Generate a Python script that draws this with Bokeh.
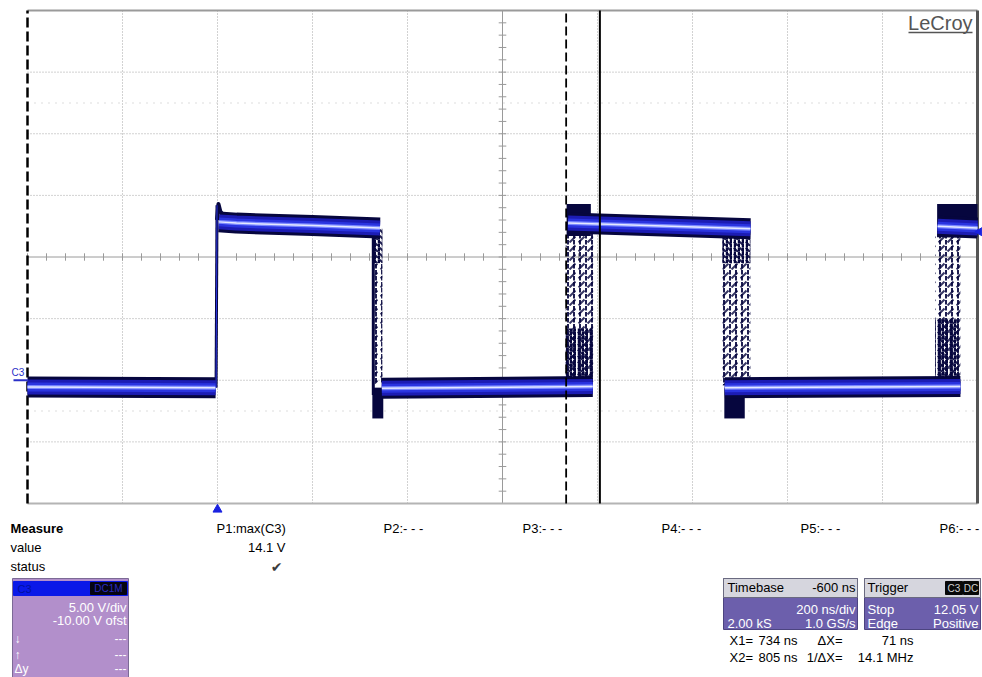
import numpy as np
from bokeh.plotting import figure
from bokeh.models import Range1d
from bokeh.core.properties import value
from bokeh.embed import file_html
from bokeh.resources import INLINE

# ---------------- data ----------------
time_per_div = 200          # ns/div
volt_per_div = 5            # V/div
t_left, t_right = -400, 1600  # ns across 10 divisions
v_bottom, v_top = -10, 30     # V across 8 divisions
v_center = 10
t_center = 600

grid_t = [-200, 0, 200, 400, 800, 1000, 1200, 1400]
grid_v = [-5, 0, 5, 15, 20, 25]
faint_v = [22.5, -2.5]

# trace levels (time ns, volts)
low1_t = [-400, -4];            low1_v = [-0.55, -0.6]
high1_t = [3, 40, 200, 342];    high1_v = [12.85, 12.75, 12.55, 12.35]
low2_t = [346, 790];            low2_v = [-0.65, -0.5]
high2_t = [738, 1122];          high2_v = [12.75, 12.3]
low3_t = [1068, 1564];          low3_v = [-0.6, -0.5]
high3_t = [1516, 1600];         high3_v = [12.5, 12.35]

# overshoot spike after the triggered edge
spike_t = [-1, 2, 6, 14, 30]
spike_v = [13.0, 14.3, 13.7, 13.3, 13.1]

# sharp (triggered) edge and main falling stroke
stroke_t0 = [-3, 328];  stroke_v0 = [-0.6, 12.3]
stroke_t1 = [-1, 328];  stroke_v1 = [14.2, -1.2]

# jitter areas of the edges: sparse and dense scattered samples
jit_l = [331, 733, 1063, 1511]
jit_r = [347, 791, 1122, 1564]
jit_b = [-0.3, -0.2, -0.4, -0.2]
jit_t = [9.5, 12.2, 9.5, 12.2]

dense_l = [328, 733, 1063, 1511]
dense_r = [347, 790, 1122, 1560]
dense_b = [9.5, 0.0, 9.5, 0.0]
dense_t = [12.3, 4.2, 12.4, 5.0]

# solid blobs (undershoot / settling)
blob_l = [326, 1067, 735, 1515]
blob_r = [349, 1110, 786, 1600]
blob_b = [-3.1, -3.1, 11.7, 11.6]
blob_t = [-0.6, -0.6, 14.3, 14.3]

trigger_t = 0
trigger_level = 12.05
cursor_x1 = 734
cursor_x2 = 805

measure_rows = ["Measure", "value", "status"]
param_labels = ["P1:max(C3)", "P2:- - -", "P3:- - -", "P4:- - -", "P5:- - -", "P6:- - -"]
p1_value = "14.1 V"
ch_right = ["5.00 V/div", "-10.00 V ofst", "---", "---", "---"]
ch_left = ["\u2193", "\u2191", "\u0394y"]
tb_header = ("Timebase", "-600 ns")
tb_rows_left = ["", "2.00 kS"]
tb_rows_right = ["200 ns/div", "1.0 GS/s"]
trig_rows_left = ["Stop", "Edge"]
trig_rows_right = ["12.05 V", "Positive"]
cursor_left = ["X1=", "X2="]
cursor_pos = ["734 ns", "805 ns"]
cursor_mid = ["\u0394X=", "1/\u0394X="]
cursor_val = ["71 ns", "14.1 MHz"]

# ---------------- layout ----------------
W, H = 982, 677
GX0, GX1 = 27, 977
GY0, GY1 = 10, 503
px_ns = (GX1 - GX0) / (t_right - t_left)
px_v = (GY1 - GY0) / (v_top - v_bottom)
x_start = t_left - GX0 / px_ns
x_end = t_right + (W - GX1) / px_ns
y_end = v_top + GY0 / px_v
y_start = v_bottom - (H - GY1) / px_v

p = figure(width=W, height=H, x_range=Range1d(x_start, x_end),
           y_range=Range1d(y_start, y_end), min_border=0,
           x_axis_location=None, y_axis_location=None,
           toolbar_location=None, output_backend="svg",
           outline_line_color=None, background_fill_color="white",
           border_fill_color="white")
p.grid.visible = False
p.xgrid.visible = False
p.ygrid.visible = False
p.extra_x_ranges = {"px": Range1d(0, W)}
p.extra_y_ranges = {"px": Range1d(H, 0)}

FONT = value("Liberation Sans")
GRIDC = "#a4a4a4"

# graticule
p.segment(x0=grid_t, y0=v_bottom, x1=grid_t, y1=v_top, line_color=GRIDC,
          line_dash="1 2", line_width=1)
p.segment(x0=t_left, y0=grid_v, x1=t_right, y1=grid_v, line_color=GRIDC,
          line_dash="1 2", line_width=1)
p.segment(x0=t_left, y0=faint_v, x1=t_right, y1=faint_v, line_color="#d2d2d2",
          line_dash="1 6", line_width=1.5)
p.segment(x0=[t_left], y0=[v_center], x1=[t_right], y1=[v_center],
          line_color="#9a9a9a", line_width=1)
p.segment(x0=[t_center], y0=[v_bottom], x1=[t_center], y1=[v_top],
          line_color="#9a9a9a", line_width=1)
tick_t = np.arange(t_left, t_right + 1, time_per_div / 5)
tick_v = np.arange(v_bottom, v_top + 0.01, volt_per_div / 5)
p.segment(x0=tick_t, y0=v_center - 0.3, x1=tick_t, y1=v_center + 0.3,
          line_color="#9a9a9a", line_width=1)
p.segment(x0=t_center - 8, y0=tick_v, x1=t_center + 8, y1=tick_v,
          line_color="#9a9a9a", line_width=1)
# frame
p.segment(x0=[t_left], y0=[v_top], x1=[t_right], y1=[v_top], line_color="#9a9a9a", line_width=2)
p.segment(x0=[t_left], y0=[v_bottom], x1=[t_right], y1=[v_bottom], line_color="#b4b4b4", line_width=2)
p.segment(x0=[t_left], y0=[v_bottom], x1=[t_left], y1=[v_top], line_color="black",
          line_width=2.5, line_dash="10 4")
p.segment(x0=[t_right], y0=[v_bottom], x1=[t_right], y1=[v_top], line_color="#555555", line_width=3)

# trace: jitter, blobs, bands
NAVY = "#06063e"
p.quad(left=jit_l, right=jit_r, bottom=jit_b, top=jit_t, fill_alpha=0, line_alpha=0,
       hatch_pattern=":", hatch_color=NAVY, hatch_scale=6, hatch_weight=2, hatch_alpha=0.9)
p.quad(left=jit_l, right=jit_r, bottom=jit_b, top=jit_t, fill_alpha=0, line_alpha=0,
       hatch_pattern=",", hatch_color=NAVY, hatch_scale=9, hatch_weight=2, hatch_alpha=0.8)
p.quad(left=dense_l, right=dense_r, bottom=dense_b, top=dense_t, fill_alpha=0, line_alpha=0,
       hatch_pattern=":", hatch_color=NAVY, hatch_scale=4, hatch_weight=2.5, hatch_alpha=1)
p.quad(left=dense_l, right=dense_r, bottom=dense_b, top=dense_t, fill_alpha=0, line_alpha=0,
       hatch_pattern="`", hatch_color=NAVY, hatch_scale=6, hatch_weight=2, hatch_alpha=0.9)
p.quad(left=blob_l, right=blob_r, bottom=blob_b, top=blob_t, fill_color=NAVY,
       fill_alpha=1, line_alpha=0)
p.segment(x0=stroke_t0, y0=stroke_v0, x1=stroke_t1, y1=stroke_v1, line_color=NAVY, line_width=3)
p.line(x=spike_t, y=spike_v, line_color=NAVY, line_width=4, line_join="round")

xs = [low1_t, high1_t, low2_t, high2_t, low3_t, high3_t]
ys = [low1_v, high1_v, low2_v, high2_v, low3_v, high3_v]
for col, lw in [(NAVY, 21), ("#1c1cb4", 15), ("#2a34e0", 9), ("#7a88ff", 4), ("#e4e8ff", 1.5)]:
    p.multi_line(xs=xs, ys=ys, line_color=col, line_width=lw, line_cap="butt", line_join="round")
p.segment(x0=stroke_t0[:1], y0=stroke_v0[:1], x1=stroke_t1[:1], y1=stroke_v1[:1],
          line_color="#2a34e0", line_width=1)

# cursors
p.segment(x0=[cursor_x1], y0=[v_bottom], x1=[cursor_x1], y1=[v_top], line_color="black",
          line_width=1.8, line_dash="9 4")
p.segment(x0=[cursor_x2], y0=[v_bottom], x1=[cursor_x2], y1=[v_top], line_color="black",
          line_width=2)

# markers: trigger position, trigger level, channel ground
p.scatter(x=[trigger_t], y=[509], y_range_name="px", marker="triangle", size=9,
          fill_color="#1a22e0", line_color="#1a22e0")
p.scatter(x=[979], y=[trigger_level], x_range_name="px", marker="triangle", angle=np.pi / 2,
          size=8, fill_color="#1a22e0", line_color="#1a22e0")
p.segment(x0=[13], y0=[0], x1=[27], y1=[0], x_range_name="px", line_color="#2a30c8", line_width=2)
p.text(x=[11], y=[372], text=["C3"], x_range_name="px", y_range_name="px", text_font=FONT,
       text_font_size="10px", text_color="#2a30c8", text_baseline="middle")

# LeCroy logo
p.text(x=[972], y=[22], text=["LeCroy"], x_range_name="px", y_range_name="px",
       text_font=FONT, text_font_size="20px", text_color="#555555", text_align="right",
       text_baseline="middle")
p.segment(x0=[908], y0=[32], x1=[972], y1=[32], x_range_name="px", y_range_name="px",
          line_color="#555555", line_width=1.5)


def txt(x, y, t, align="left", color="black", size="13px", style="normal", font=FONT):
    p.text(x=x, y=y, text=t, x_range_name="px", y_range_name="px", text_font=font,
           text_font_size=size, text_color=color, text_align=align,
           text_baseline="middle", text_font_style=style)


# measure table
txt([10], [528], measure_rows[:1], style="bold")
txt([10, 10], [547, 566], measure_rows[1:])
txt([216, 383, 522, 661, 800, 939], [528] * 6, param_labels)
txt([285], [547], [p1_value], align="right")
txt([276], [566], ["\u2714"], align="center", color="#3c3c3c", size="14px", font=value("DejaVu Sans"))


def box(l, r, t, b, color, line="#5a4f80"):
    p.quad(left=[l], right=[r], top=[t], bottom=[b], x_range_name="px", y_range_name="px",
           fill_color=color, line_color=line, line_width=1)


# channel box
box(12, 128, 578, 677, "#b28fcb", line="#7c6a96")
box(13, 127, 581, 595, "#0a18e8", line="#0a18e8")
box(90, 126, 582, 594, "#050510", line="#050510")
txt([17], [588], ["C3"], color="#0010a0", size="11px")
txt([108], [588], ["DC1M"], align="center", color="#2a2ac0", size="10px")
txt([126, 126], [607, 620], ch_right[:2], align="right", color="white")
txt([126, 126, 126], [638, 654, 668], ch_right[2:], align="right", color="white", size="12px")
txt([14, 14, 14], [638, 654, 668], ch_left, color="white", size="12px")

# timebase / trigger boxes
box(723, 857, 578, 629, "#6c5fac", line="#4c4480")
box(723, 857, 578, 597, "#d6d6de", line="#6a6a80")
box(864, 980, 578, 629, "#6c5fac", line="#4c4480")
box(864, 980, 578, 597, "#d6d6de", line="#6a6a80")
txt([727], [587], [tb_header[0]])
txt([855], [587], [tb_header[1]], align="right")
txt([727, 727], [609, 623], tb_rows_left, color="white")
txt([855, 855], [609, 623], tb_rows_right, align="right", color="white")
txt([867], [587], ["Trigger"])
box(945, 962, 581, 594, "#080808", line="#080808")
box(963, 978, 581, 594, "#080808", line="#080808")
txt([953.5, 970.5], [588, 588], ["C3", "DC"], align="center", color="#d0d0d0", size="10px")
txt([867, 867], [609, 623], trig_rows_left, color="white")
txt([978, 978], [609, 623], trig_rows_right, align="right", color="white")

# cursor readouts
txt([729, 729], [640, 657], cursor_left)
txt([797, 797], [640, 657], cursor_pos, align="right")
txt([842, 842], [640, 657], cursor_mid, align="right")
txt([913, 913], [640, 657], cursor_val, align="right")

open("out.html", "w").write(file_html(p, INLINE))
